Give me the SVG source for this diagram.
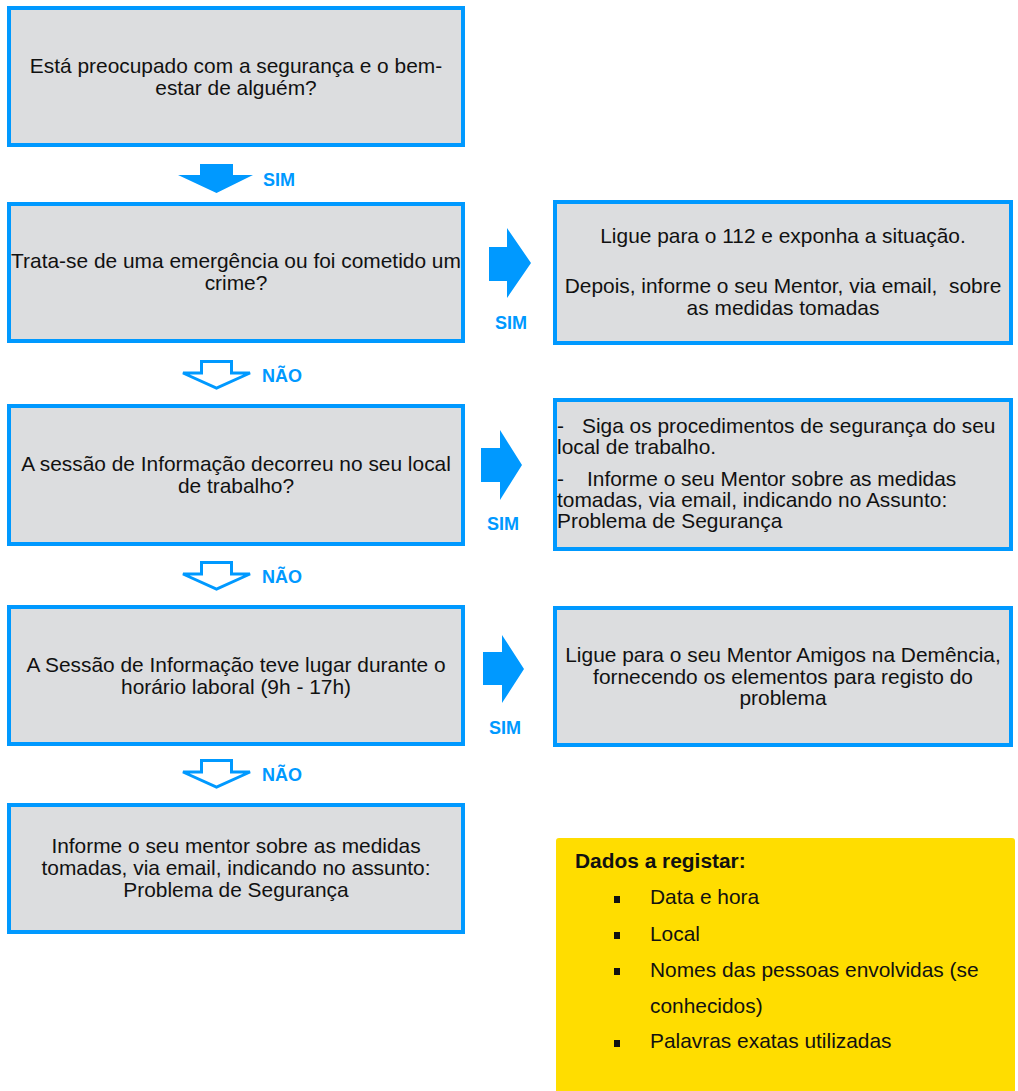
<svg xmlns="http://www.w3.org/2000/svg" width="1018" height="1091" viewBox="0 0 1018 1091">
  <style>
    .box { fill: #DCDDDF; stroke: #0099FF; stroke-width: 4; }
    .t { font-family: "Liberation Sans", Arial, sans-serif; font-size: 20.9px; fill: #111111; }
    .c { text-anchor: middle; }
    .lbl { font-family: "Liberation Sans", Arial, sans-serif; font-size: 18px; font-weight: bold; fill: #0099FF; }
    .af { fill: #0099FF; }
    .ao { fill: #FFFFFF; stroke: #0099FF; stroke-width: 3; stroke-linejoin: miter; }
    .note { fill: #FFDD00; }
    .b { font-weight: bold; }
    .bullet { fill: #111111; }
  </style>

  <g id="connectors">
    <polygon class="af" points="200,164 233,164 233,175 253,175 216.5,193 178,175 200,175"/>
    <text class="lbl" x="263" y="186">SIM</text>

    <polygon class="ao" points="201.5,361.5 231.5,361.5 231.5,373 250,373 216.5,388 183,373 201.5,373"/>
    <text class="lbl" x="262" y="382">NÃO</text>

    <polygon class="ao" points="201.5,562.5 231.5,562.5 231.5,574 250,574 216.5,589 183,574 201.5,574"/>
    <text class="lbl" x="262" y="583">NÃO</text>

    <polygon class="ao" points="201.5,760.5 231.5,760.5 231.5,772 250,772 216.5,787 183,772 201.5,772"/>
    <text class="lbl" x="262" y="781">NÃO</text>

    <polygon class="af" points="489,247 507,247 507,228 531,263 507,298 507,281 489,281"/>
    <text class="lbl" x="495" y="329">SIM</text>

    <polygon class="af" points="481,448 500,448 500,430 522,465 500,500 500,482 481,482"/>
    <text class="lbl" x="487" y="530">SIM</text>

    <polygon class="af" points="483,652 502,652 502,635 524,669 502,703 502,685 483,685"/>
    <text class="lbl" x="489" y="734">SIM</text>
  </g>

  <g id="q1">
    <rect class="box" x="9" y="8" width="454" height="137"/>
    <text class="t c" x="236" y="73">Está preocupado com a segurança e o bem-</text>
    <text class="t c" x="236" y="95">estar de alguém?</text>
  </g>

  <g id="q2">
    <rect class="box" x="9" y="204" width="454" height="137"/>
    <text class="t c" x="236" y="268">Trata-se de uma emergência ou foi cometido um</text>
    <text class="t c" x="236" y="290">crime?</text>
  </g>

  <g id="q3">
    <rect class="box" x="9" y="406" width="454" height="138"/>
    <text class="t c" x="236" y="471">A sessão de Informação decorreu no seu local</text>
    <text class="t c" x="236" y="493">de trabalho?</text>
  </g>

  <g id="q4">
    <rect class="box" x="9" y="607" width="454" height="137"/>
    <text class="t c" x="236" y="672">A Sessão de Informação teve lugar durante o</text>
    <text class="t c" x="236" y="694">horário laboral (9h - 17h)</text>
  </g>

  <g id="a4">
    <rect class="box" x="9" y="805" width="454" height="127"/>
    <text class="t c" x="236" y="853">Informe o seu mentor sobre as medidas</text>
    <text class="t c" x="236" y="875">tomadas, via email, indicando no assunto:</text>
    <text class="t c" x="236" y="897">Problema de Segurança</text>
  </g>

  <g id="a1">
    <rect class="box" x="555" y="202" width="456" height="141"/>
    <text class="t c" x="783" y="243">Ligue para o 112 e exponha a situação.</text>
    <text class="t c" x="783" y="293" xml:space="preserve">Depois, informe o seu Mentor, via email,  sobre</text>
    <text class="t c" x="783" y="315">as medidas tomadas</text>
  </g>

  <g id="a2">
    <rect class="box" x="555" y="400" width="456" height="149"/>
    <text class="t" x="557" y="433">-</text>
    <text class="t" x="582" y="433">Siga os procedimentos de segurança do seu</text>
    <text class="t" x="557" y="454">local de trabalho.</text>
    <text class="t" x="557" y="486">-</text>
    <text class="t" x="587" y="486">Informe o seu Mentor sobre as medidas</text>
    <text class="t" x="557" y="507">tomadas, via email, indicando no Assunto:</text>
    <text class="t" x="557" y="528">Problema de Segurança</text>
  </g>

  <g id="a3">
    <rect class="box" x="555" y="608" width="456" height="137"/>
    <text class="t c" x="783" y="662">Ligue para o seu Mentor Amigos na Demência,</text>
    <text class="t c" x="783" y="684">fornecendo os elementos para registo do</text>
    <text class="t c" x="783" y="705">problema</text>
  </g>

  <g id="dados">
    <rect class="note" x="556" y="838" width="459" height="262" rx="3" ry="3"/>
    <text class="t b" x="575" y="868">Dados a registar:</text>
    <rect class="bullet" x="614" y="896" width="6" height="7"/>
    <text class="t" x="650" y="904">Data e hora</text>
    <rect class="bullet" x="614" y="932" width="6" height="7"/>
    <text class="t" x="650" y="941">Local</text>
    <rect class="bullet" x="614" y="968" width="6" height="7"/>
    <text class="t" x="650" y="977">Nomes das pessoas envolvidas (se</text>
    <text class="t" x="650" y="1013">conhecidos)</text>
    <rect class="bullet" x="614" y="1040" width="6" height="7"/>
    <text class="t" x="650" y="1048">Palavras exatas utilizadas</text>
  </g>
</svg>
